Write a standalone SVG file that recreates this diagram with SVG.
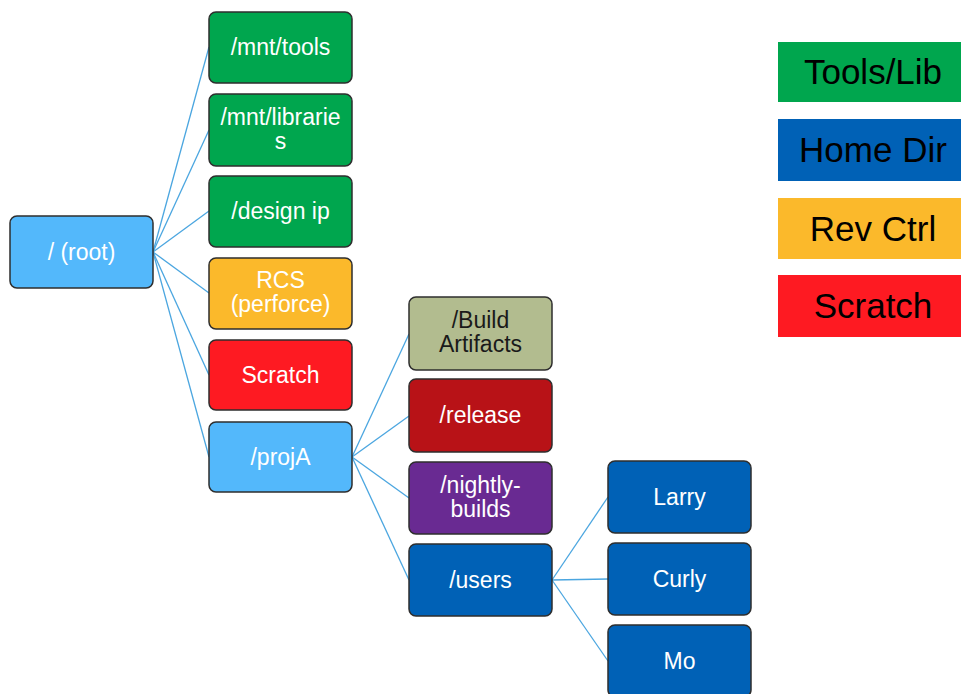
<svg xmlns="http://www.w3.org/2000/svg" width="961" height="694" viewBox="0 0 961 694">
  <style>
    .box { stroke: #2e2e2e; stroke-width: 1.5; }
    .t { font-family: "Liberation Sans", Arial, sans-serif; font-size: 23px; fill: #ffffff; text-anchor: middle; }
    .dark { fill: #1a1a1a; }
    .lg { font-family: "Liberation Sans", Arial, sans-serif; font-size: 35px; fill: #000000; text-anchor: middle; }
    .edge { stroke: #4ba6e0; stroke-width: 1.3; fill: none; }
  </style>
  <rect width="961" height="694" fill="#ffffff"/>

  <!-- tree edges -->
  <g id="connectors">
    <line class="edge" x1="153" y1="252" x2="209" y2="47"/>
    <line class="edge" x1="153" y1="252" x2="209" y2="130"/>
    <line class="edge" x1="153" y1="252" x2="209" y2="211"/>
    <line class="edge" x1="153" y1="252" x2="209" y2="293"/>
    <line class="edge" x1="153" y1="252" x2="209" y2="375"/>
    <line class="edge" x1="153" y1="252" x2="209" y2="457"/>
    <line class="edge" x1="352" y1="457" x2="409" y2="334"/>
    <line class="edge" x1="352" y1="457" x2="409" y2="416"/>
    <line class="edge" x1="352" y1="457" x2="409" y2="498"/>
    <line class="edge" x1="352" y1="457" x2="409" y2="580"/>
    <line class="edge" x1="552" y1="580" x2="608" y2="497"/>
    <line class="edge" x1="552" y1="580" x2="608" y2="579"/>
    <line class="edge" x1="552" y1="580" x2="608" y2="661"/>
  </g>

  <!-- root -->
  <g id="root">
    <rect class="box" x="10" y="216" width="143" height="72" rx="7" fill="#53b8fb"/>
    <text class="t" x="81.5" y="260">/ (root)</text>
  </g>

  <!-- first level -->
  <g id="mnt-tools">
    <rect class="box" x="209" y="12" width="143" height="71" rx="7" fill="#00a64e"/>
    <text class="t" x="280.5" y="55">/mnt/tools</text>
  </g>
  <g id="mnt-libraries">
    <rect class="box" x="209" y="94" width="143" height="72" rx="7" fill="#00a64e"/>
    <text class="t" x="280.5" y="125">/mnt/librarie</text>
    <text class="t" x="280.5" y="149">s</text>
  </g>
  <g id="design-ip">
    <rect class="box" x="209" y="176" width="143" height="71" rx="7" fill="#00a64e"/>
    <text class="t" x="280.5" y="219">/design ip</text>
  </g>
  <g id="rcs">
    <rect class="box" x="209" y="258" width="143" height="71" rx="7" fill="#fbb92b"/>
    <text class="t" x="280.5" y="288">RCS</text>
    <text class="t" x="280.5" y="312">(perforce)</text>
  </g>
  <g id="scratch">
    <rect class="box" x="209" y="340" width="143" height="70" rx="7" fill="#fe1a22"/>
    <text class="t" x="280.5" y="383">Scratch</text>
  </g>
  <g id="projA">
    <rect class="box" x="209" y="422" width="143" height="70" rx="7" fill="#53b8fb"/>
    <text class="t" x="280.5" y="465">/projA</text>
  </g>

  <!-- second level -->
  <g id="build-artifacts">
    <rect class="box" x="409" y="297" width="143" height="73" rx="7" fill="#b2bc8f"/>
    <text class="t dark" x="480.5" y="328">/Build</text>
    <text class="t dark" x="480.5" y="352">Artifacts</text>
  </g>
  <g id="release">
    <rect class="box" x="409" y="379" width="143" height="73" rx="7" fill="#b81217"/>
    <text class="t" x="480.5" y="423">/release</text>
  </g>
  <g id="nightly-builds">
    <rect class="box" x="409" y="462" width="143" height="72" rx="7" fill="#692a92"/>
    <text class="t" x="480.5" y="493">/nightly-</text>
    <text class="t" x="480.5" y="517">builds</text>
  </g>
  <g id="users">
    <rect class="box" x="409" y="544" width="143" height="72" rx="7" fill="#0061b6"/>
    <text class="t" x="480.5" y="588">/users</text>
  </g>

  <!-- third level -->
  <g id="larry">
    <rect class="box" x="608" y="461" width="143" height="72" rx="7" fill="#0061b6"/>
    <text class="t" x="679.5" y="505">Larry</text>
  </g>
  <g id="curly">
    <rect class="box" x="608" y="543" width="143" height="72" rx="7" fill="#0061b6"/>
    <text class="t" x="679.5" y="587">Curly</text>
  </g>
  <g id="mo">
    <rect class="box" x="608" y="625" width="143" height="72" rx="7" fill="#0061b6"/>
    <text class="t" x="679.5" y="669">Mo</text>
  </g>

  <!-- legend -->
  <g id="legend">
    <rect x="778" y="42" width="192" height="60" fill="#00a64e"/>
    <text class="lg" x="873" y="84">Tools/Lib</text>
    <rect x="778" y="119" width="192" height="62" fill="#0061b6"/>
    <text class="lg" x="873" y="162">Home Dir</text>
    <rect x="778" y="198" width="192" height="61" fill="#fbb92b"/>
    <text class="lg" x="873" y="241">Rev Ctrl</text>
    <rect x="778" y="275" width="192" height="62" fill="#fe1a22"/>
    <text class="lg" x="873" y="318">Scratch</text>
  </g>
</svg>
